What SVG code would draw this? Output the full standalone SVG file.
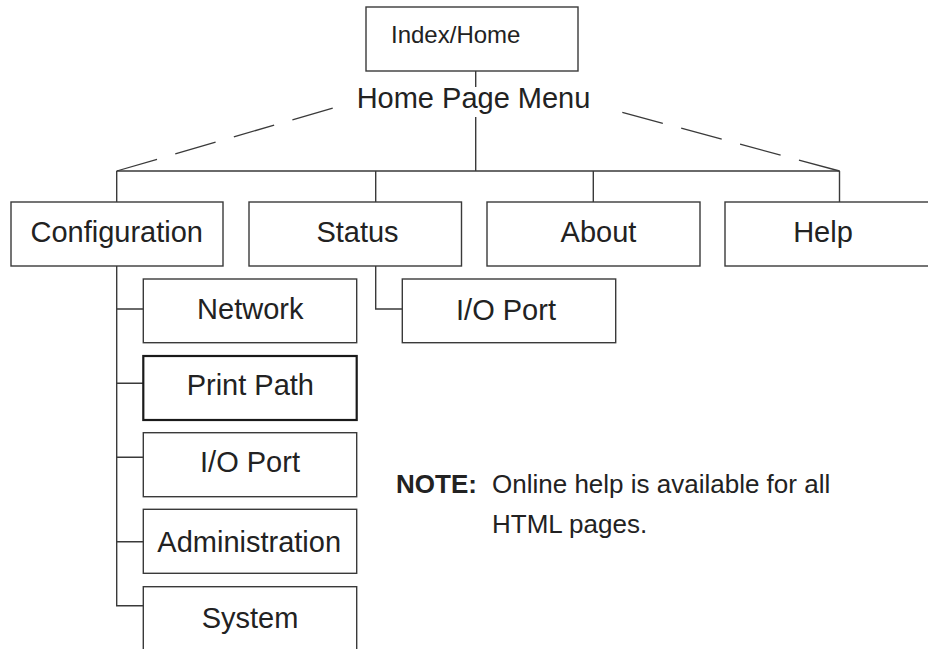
<svg xmlns="http://www.w3.org/2000/svg" width="928" height="649" viewBox="0 0 928 649">
<style>
.box{fill:#fff;stroke:#3a3a3a;stroke-width:1.4}
.bold{fill:#fff;stroke:#1a1a1a;stroke-width:2.2}
.lbl{font-family:"Liberation Sans",Arial,sans-serif;font-size:29px;fill:#222;text-anchor:middle}
.small{font-size:24px;text-anchor:start}
.ln{fill:none;stroke:#3a3a3a;stroke-width:1.4}
.dash{fill:none;stroke:#3a3a3a;stroke-width:1.3;stroke-dasharray:42 19}
.note{font-family:"Liberation Sans",Arial,sans-serif;font-size:26px;fill:#222}
</style>
<rect width="928" height="649" fill="#fff"/>
<g id="connectors">
<path class="ln" d="M475.7 71V87M475.7 117V171M116.7 171H839.5M116.7 171V202M375.7 171V202M593.3 171V202M839.5 171V202"/>
<path class="dash" d="M116.7 171L333 108"/>
<path class="dash" d="M839.5 171L622.3 112.3"/>
<path class="ln" d="M375.7 266V309H402.3"/>
<path class="ln" d="M116.7 266V605.7H143.3M116.7 309H143.3M116.7 383.3H143.3M116.7 457.3H143.3M116.7 541.7H143.3"/>
</g>
<g id="index"><rect class="box" x="366" y="7" width="212" height="64"/><text class="lbl small" x="391" y="42.7">Index/Home</text></g>
<g id="menu"><text class="lbl" x="473.5" y="108.3">Home Page Menu</text></g>
<g id="configuration"><rect class="box" x="11" y="202" width="212" height="64"/><text class="lbl" x="116.7" y="242.3">Configuration</text></g>
<g id="status"><rect class="box" x="249" y="202" width="212.5" height="64"/><text class="lbl" x="357.5" y="242.3">Status</text></g>
<g id="about"><rect class="box" x="487" y="202" width="213" height="64"/><text class="lbl" x="598.5" y="242.3">About</text></g>
<g id="help"><rect class="box" x="725" y="202" width="215" height="64"/><text class="lbl" x="823" y="242.3">Help</text></g>
<g id="status-io"><rect class="box" x="402.3" y="279" width="213.4" height="63.7"/><text class="lbl" x="506" y="320">I/O Port</text></g>
<g id="network"><rect class="box" x="143.3" y="279" width="213.4" height="63.7"/><text class="lbl" x="250.3" y="319.3">Network</text></g>
<g id="printpath"><rect class="bold" x="143.3" y="356" width="213.4" height="64"/><text class="lbl" x="250.3" y="395">Print Path</text></g>
<g id="config-io"><rect class="box" x="143.3" y="432.7" width="213.4" height="64"/><text class="lbl" x="250" y="472">I/O Port</text></g>
<g id="administration"><rect class="box" x="143.3" y="509.3" width="213.4" height="64"/><text class="lbl" x="249.2" y="551.7">Administration</text></g>
<g id="system"><rect class="box" x="143.3" y="586.7" width="213.4" height="70"/><text class="lbl" x="250" y="628.3">System</text></g>
<g id="note">
<text class="note" x="396" y="493" font-weight="bold">NOTE:</text>
<text class="note" x="492" y="493">Online help is available for all</text>
<text class="note" x="492" y="533.3">HTML pages.</text>
</g>
</svg>
